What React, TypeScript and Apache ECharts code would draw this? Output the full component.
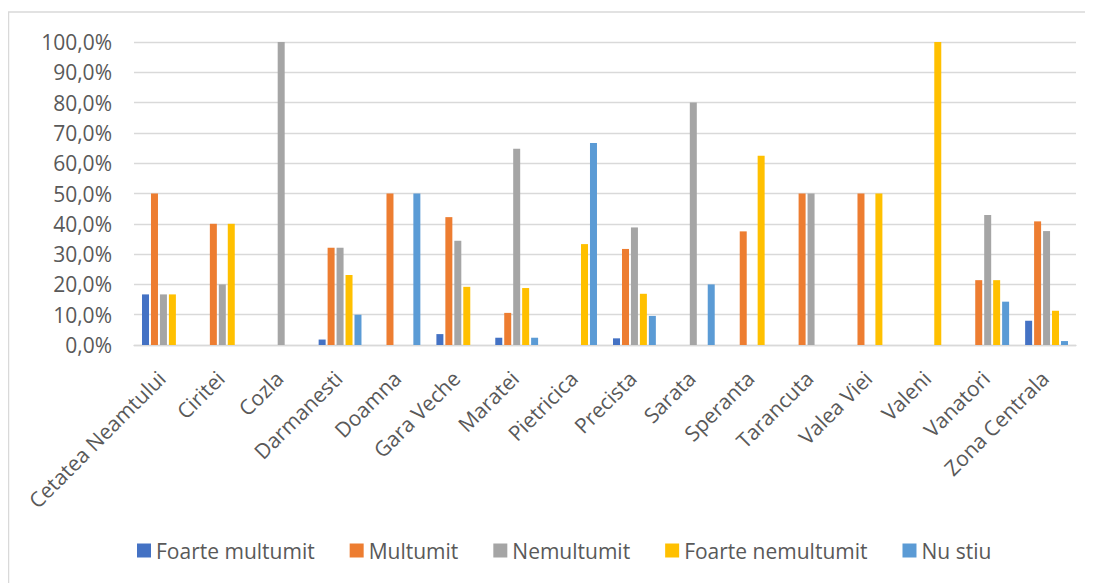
import React, { useEffect, useRef } from "react";
import * as echarts from "echarts";

const categories = [
  "Cetatea Neamtului", "Ciritei", "Cozla", "Darmanesti", "Doamna", "Gara Veche",
  "Maratei", "Pietricica", "Precista", "Sarata", "Speranta", "Tarancuta",
  "Valea Viei", "Valeni", "Vanatori", "Zona Centrala",
];
const seriesNames = ["Foarte multumit", "Multumit", "Nemultumit", "Foarte nemultumit", "Nu stiu"];
const foarteMultumit = [16.7, null, null, 1.8, null, 3.6, 2.4, null, 2.2, null, null, null, null, null, null, 8.0];
const multumit = [50, 40, null, 32.1, 50, 42.2, 10.6, null, 31.7, null, 37.5, 50, 50, null, 21.4, 40.8];
const nemultumit = [16.7, 20, 100, 32.1, null, 34.4, 64.8, null, 38.8, 80, null, 50, null, null, 42.9, 37.6];
const foarteNemultumit = [16.7, 40, null, 23.1, null, 19.2, 18.8, 33.3, 16.9, null, 62.5, null, 50, 100, 21.4, 11.3];
const nuStiu = [null, null, null, 10, 50, null, 2.4, 66.7, 9.6, 20, null, null, null, null, 14.3, 1.3];
const seriesData = [foarteMultumit, multumit, nemultumit, foarteNemultumit, nuStiu];
const colors = ["#4472C4", "#ED7D31", "#A5A5A5", "#FFC000", "#5B9BD5"];

const FONT = "'Open Sans', sans-serif";
const TXT = "#595959";

export default function App() {
  const ref = useRef<HTMLDivElement>(null);
  useEffect(() => {
    const chart = echarts.init(ref.current!, null, { renderer: "svg" });
    chart.setOption({
      animation: false,
      color: colors,
      graphic: [
        {
          type: "rect",
          shape: { x: 0.5, y: 4, width: 1200, height: 700 },
          style: { fill: "none", stroke: "#d9d9d9", lineWidth: 1.5 },
          silent: true,
        },
      ],
      grid: { left: 126, right: 17, top: 34, bottom: 238, containLabel: false },
      legend: {
        left: 124,
        top: 527,
        itemWidth: 14,
        itemHeight: 14,
        itemGap: 35,
        icon: "rect",
        textStyle: { color: TXT, fontFamily: FONT, fontSize: 21 },
        data: seriesNames,
      },
      xAxis: {
        type: "category",
        data: categories,
        axisLine: { show: true, lineStyle: { color: "#d9d9d9", width: 1.3 } },
        axisTick: { show: false },
        axisLabel: {
          rotate: 45,
          interval: 0,
          margin: 13,
          verticalAlign: "top",
          padding: [0, 13, 0, 0],
          color: TXT,
          fontFamily: FONT,
          fontSize: 21,
        },
      },
      yAxis: {
        type: "value",
        min: 0,
        max: 100,
        interval: 10,
        axisLine: { show: false },
        axisTick: { show: false },
        splitLine: { lineStyle: { color: "#d9d9d9", width: 1.3 } },
        axisLabel: {
          margin: 22,
          color: TXT,
          fontFamily: FONT,
          fontSize: 21,
          formatter: (v: number) => v.toFixed(1).replace(".", ",") + "%",
        },
      },
      series: seriesNames.map((name, i) => ({
        name,
        type: "bar",
        data: seriesData[i],
        barWidth: 7,
        barGap: "28%",
      })),
    });
    return () => chart.dispose();
  }, []);
  return <div ref={ref} style={{ width: 1085, height: 575 }} />;
}
